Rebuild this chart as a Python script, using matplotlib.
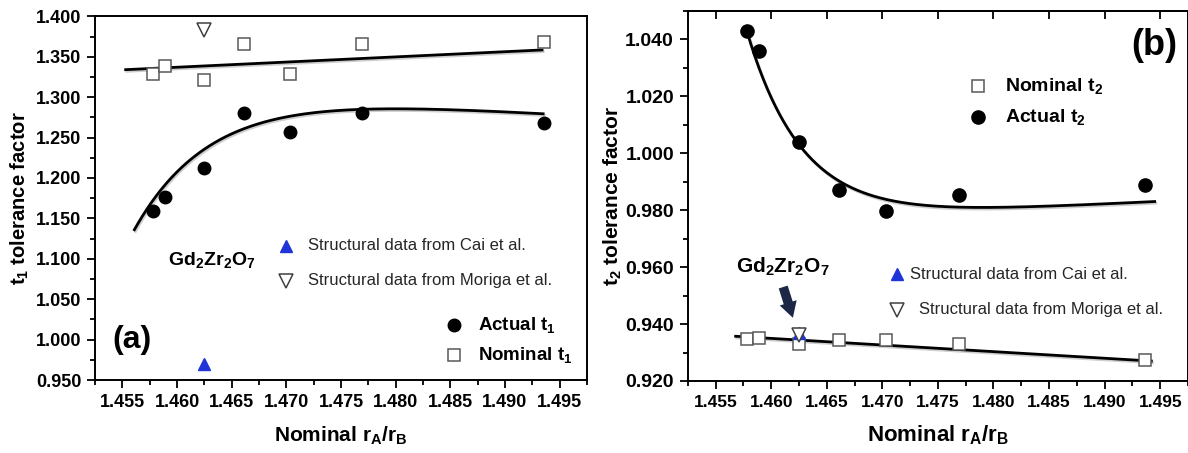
import numpy as np
import matplotlib

matplotlib.use("Agg")
import matplotlib.pyplot as plt  # noqa: E402
import matplotlib.patheffects as pe  # noqa: E402
from matplotlib.ticker import AutoMinorLocator, FormatStrFormatter  # noqa: E402

plt.rcParams["font.family"] = ["Liberation Sans", "DejaVu Sans"]
plt.rcParams["mathtext.default"] = "regular"

# razão nominal r_A/r_B das amostras
ra_rb = [1.4578, 1.4589, 1.4625, 1.4661, 1.4703, 1.4769, 1.4936]

# painel (a): fator de tolerância t1
t1_nominal = [1.329, 1.339, 1.321, 1.366, 1.329, 1.366, 1.368]
t1_actual = [1.159, 1.177, 1.212, 1.280, 1.257, 1.280, 1.268]

# painel (b): fator de tolerância t2
t2_nominal = [0.9346, 0.9352, 0.9331, 0.9345, 0.9344, 0.9331, 0.9273]
t2_actual = [1.0430, 1.0359, 1.0040, 0.9870, 0.9796, 0.9854, 0.9887]

# Gd2Zr2O7 a partir de dados estruturais da literatura
gzo_x = 1.4625
cai_t1, moriga_t1 = 0.970, 1.383
cai_t2, moriga_t2 = 0.9370, 0.9362

# parâmetros dos ajustes
# reta: (y em x_ref, inclinação)
# exponencial + reta: y = y0 + A*exp(-(x - x0)/tau) + B*(x - x0) -> (x0, y0, A, tau, B)
X_REF = 1.475
fit_t1_nom = (1.3466, 0.640)
fit_t2_nom = (0.93147, -0.2326)
fit_t1_act = (1.4561, 1.311, -0.175, 0.0070, -0.8225)
fit_t2_act = (1.4578, 0.9759, 0.0671, 0.0050, 0.193)

# intervalos em que as curvas de ajuste são traçadas
range_t1_nom = (1.4553, 1.4934)
range_t1_act = (1.4561, 1.4935)
range_t2_nom = (1.4568, 1.4942)
range_t2_act = (1.4578, 1.4945)

XLIM = (1.4525, 1.4975)
XTICKS = np.arange(1.455, 1.4951, 0.005)
BLUE = "#1f35d8"
NAVY = "#1b2745"
SHADOW = [pe.SimpleLineShadow(offset=(0.8, -1.2), shadow_color="0.45", alpha=0.35), pe.Normal()]


def linear(params, lo_hi):
    y_ref, slope = params
    xs = np.linspace(*lo_hi, 100)
    return xs, y_ref + slope * (xs - X_REF)


def exp_linear(params, lo_hi):
    x0, y0, amp, tau, slope = params
    xs = np.linspace(*lo_hi, 300)
    return xs, y0 + amp * np.exp(-(xs - x0) / tau) + slope * (xs - x0)


def style_axes(ax, ylim, yticks, xsize, ysize, top_ticks=False):
    ax.set_xlim(*XLIM)
    ax.set_ylim(*ylim)
    ax.set_xticks(XTICKS)
    ax.set_yticks(yticks)
    ax.xaxis.set_major_formatter(FormatStrFormatter("%.3f"))
    ax.yaxis.set_major_formatter(FormatStrFormatter("%.3f"))
    ax.xaxis.set_minor_locator(AutoMinorLocator(2))
    ax.yaxis.set_minor_locator(AutoMinorLocator(2))
    ax.tick_params(which="both", direction="out", width=1.3, top=False, right=False)
    ax.tick_params(which="major", length=6, pad=4)
    ax.tick_params(which="minor", length=3.5)
    ax.tick_params(axis="x", labelsize=xsize)
    ax.tick_params(axis="y", labelsize=ysize)
    for lab in ax.get_xticklabels() + ax.get_yticklabels():
        lab.set_fontweight("bold")
    for s in ax.spines.values():
        s.set_linewidth(1.4)
    if top_ticks:
        sec = ax.secondary_xaxis("top")
        sec.set_xticks(XTICKS)
        sec.tick_params(direction="in", length=6, width=1.3, labeltop=False)
        sec.spines["top"].set_linewidth(1.4)


fig = plt.figure(figsize=(11.88, 4.53), dpi=100)
ax1 = fig.add_axes([0.080, 0.161, 0.414, 0.803])
ax2 = fig.add_axes([0.579, 0.159, 0.421, 0.817])

nom_style = dict(ms=8, mfc="white", mec="0.35", mew=1.1)
moriga_style = dict(ms=9.5, mfc="white", mec="0.25", mew=1.1)

# ---- (a) t1 ----
xs, ys = linear(fit_t1_nom, range_t1_nom)
ax1.plot(xs, ys, color="black", lw=2, path_effects=SHADOW, zorder=2)
xs, ys = exp_linear(fit_t1_act, range_t1_act)
ax1.plot(xs, ys, color="black", lw=2, path_effects=SHADOW, zorder=2)
ax1.plot(ra_rb, t1_nominal, "s", zorder=3, **nom_style)
ax1.plot(ra_rb, t1_actual, "o", ms=9, color="black", zorder=3)
ax1.plot(gzo_x, cai_t1, "^", ms=9, color=BLUE, zorder=3)
ax1.plot(gzo_x, moriga_t1, "v", zorder=3, **moriga_style)

ax1.plot(1.4700, 1.116, "^", ms=9, color=BLUE)
ax1.text(1.4720, 1.116, "Structural data from Cai et al.", fontsize=12, va="center", color="0.15")
ax1.plot(1.4700, 1.0727, "v", **moriga_style)
ax1.text(1.4720, 1.0727, "Structural data from Moriga et al.", fontsize=12, va="center", color="0.15")
ax1.text(1.4632, 1.098, r"Gd$_2$Zr$_2$O$_7$", fontsize=14, fontweight="bold", ha="center", va="center")
ax1.text(1.4559, 0.999, "(a)", fontsize=23, fontweight="bold", ha="center", va="center")

ax1.plot(1.4853, 1.018, "o", ms=9, color="black")
ax1.text(1.4875, 1.018, r"Actual t$_1$", fontsize=13.5, fontweight="bold", va="center")
ax1.plot(1.4853, 0.981, "s", **nom_style)
ax1.text(1.4875, 0.981, r"Nominal t$_1$", fontsize=13.5, fontweight="bold", va="center")

style_axes(ax1, (0.95, 1.40), np.arange(0.95, 1.4001, 0.05), 13, 13)
ax1.set_xlabel(r"Nominal r$_A$/r$_B$", fontsize=15, fontweight="bold", labelpad=10)
ax1.set_ylabel(r"t$_1$ tolerance factor", fontsize=14.5, fontweight="bold", labelpad=3)

# ---- (b) t2 ----
xs, ys = linear(fit_t2_nom, range_t2_nom)
ax2.plot(xs, ys, color="black", lw=2, path_effects=SHADOW, zorder=2)
xs, ys = exp_linear(fit_t2_act, range_t2_act)
ax2.plot(xs, ys, color="black", lw=2, path_effects=SHADOW, zorder=2)
ax2.plot(ra_rb, t2_nominal, "s", zorder=3, **nom_style)
ax2.plot(ra_rb, t2_actual, "o", ms=9.5, color="black", zorder=3)
ax2.plot(gzo_x, cai_t2, "^", ms=8.5, color=BLUE, zorder=3)
ax2.plot(gzo_x, moriga_t2, "v", zorder=4, **moriga_style)

ax2.plot(1.4713, 0.9575, "^", ms=9, color=BLUE)
ax2.text(1.4725, 0.9575, "Structural data from Cai et al.", fontsize=12, va="center", color="0.15")
ax2.plot(1.4713, 0.9451, "v", **moriga_style)
ax2.text(1.4733, 0.9451, "Structural data from Moriga et al.", fontsize=12, va="center", color="0.15")
ax2.text(1.4610, 0.9601, r"Gd$_2$Zr$_2$O$_7$", fontsize=15, fontweight="bold", ha="center", va="center")
ax2.annotate("", xy=(1.46195, 0.9422), xytext=(1.46108, 0.9530),
             arrowprops=dict(arrowstyle="simple,head_width=0.85,head_length=0.75,tail_width=0.45",
                             mutation_scale=15, color=NAVY, lw=0, shrinkA=0, shrinkB=0))
ax2.text(1.4945, 1.0379, "(b)", fontsize=26, fontweight="bold", ha="center", va="center")

ax2.plot(1.4786, 1.0235, "s", **nom_style)
ax2.text(1.4810, 1.0235, r"Nominal t$_2$", fontsize=14, fontweight="bold", va="center")
ax2.plot(1.4786, 1.0128, "o", ms=9.5, color="black")
ax2.text(1.4810, 1.0128, r"Actual t$_2$", fontsize=14, fontweight="bold", va="center")

style_axes(ax2, (0.92, 1.05), np.arange(0.92, 1.0401, 0.02), 12.5, 14, top_ticks=True)
ax2.set_xlabel(r"Nominal r$_A$/r$_B$", fontsize=16, fontweight="bold", labelpad=10)
ax2.set_ylabel(r"t$_2$ tolerance factor", fontsize=15, fontweight="bold", labelpad=1)

fig.savefig("out.png", dpi=100)
